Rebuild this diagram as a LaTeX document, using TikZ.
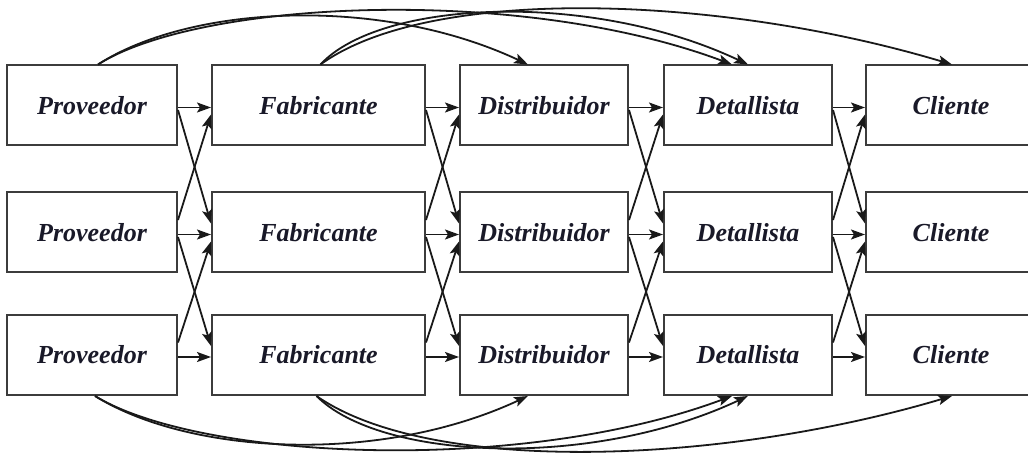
\documentclass[tikz,border=0pt]{standalone}
\usepackage{fontspec}
\setmainfont{Liberation Serif}
\usetikzlibrary{arrows.meta}
\definecolor{boxc}{RGB}{60,60,60}
\definecolor{linec}{RGB}{25,25,25}
\definecolor{txtc}{RGB}{25,25,40}
\begin{document}
\begin{tikzpicture}[x=1pt,y=-1pt,
  box/.style={draw=boxc, line width=2pt, minimum height=80pt, inner sep=0pt,
    font=\fontsize{26}{30}\selectfont\bfseries\itshape, text=txtc},
  arr/.style={draw=linec, line width=1.8pt, -{Stealth[length=14pt,width=10pt,inset=3pt]}}]
\useasboundingbox (0,0) rectangle (1028,454);
\clip (0,0) rectangle (1028,454);
\foreach \cx/\w/\t [count=\i] in {92/170/Proveedor, 318.5/213/Fabricante, 544/168/Distribuidor, 748/168/Detallista, 951/170/Cliente}{
  \foreach \cy [count=\j] in {105.5,232.5,355}{
    \node[box, minimum width=\w pt] (n\i\j) at (\cx,\cy) {\t};
  }
}
\foreach \i/\k in {1/2,2/3,3/4,4/5}{
  \foreach \j in {1,2,3}{
    \draw[arr] ([yshift=-2pt]n\i\j.east) -- ([yshift=-2pt]n\k\j.west);
  }
  \foreach \j/\m in {1/2,2/3}{
    \draw[arr] ([yshift=-4.5pt]n\i\j.east) -- ([yshift=9pt]n\k\m.west);
    \draw[arr] ([yshift=12.5pt]n\i\m.east) -- ([yshift=-9pt]n\k\j.west);
  }
}
% top arcs
\draw[arr] ([xshift=6pt]n11.north) .. controls (190,5) and (380,-5) .. ([xshift=-16pt]n31.north);
\draw[arr] ([xshift=6pt]n11.north) .. controls (200,0) and (520,-15) .. ([xshift=-16pt]n41.north);
\draw[arr] ([xshift=2pt]n21.north) .. controls (380,0) and (590,-10) .. ([xshift=0pt]n41.north);
\draw[arr] ([xshift=2pt]n21.north) .. controls (430,-15) and (720,-5) .. ([xshift=1pt]n51.north);
% bottom arcs
\draw[arr] ([xshift=3pt]n13.south) .. controls (190,455) and (380,465) .. ([xshift=-16pt]n33.south);
\draw[arr] ([xshift=3pt]n13.south) .. controls (200,460) and (520,475) .. ([xshift=-16pt]n43.south);
\draw[arr] ([xshift=-2pt]n23.south) .. controls (380,460) and (590,470) .. ([xshift=0pt]n43.south);
\draw[arr] ([xshift=-2pt]n23.south) .. controls (430,475) and (720,465) .. ([xshift=1pt]n53.south);
\end{tikzpicture}
\end{document}
